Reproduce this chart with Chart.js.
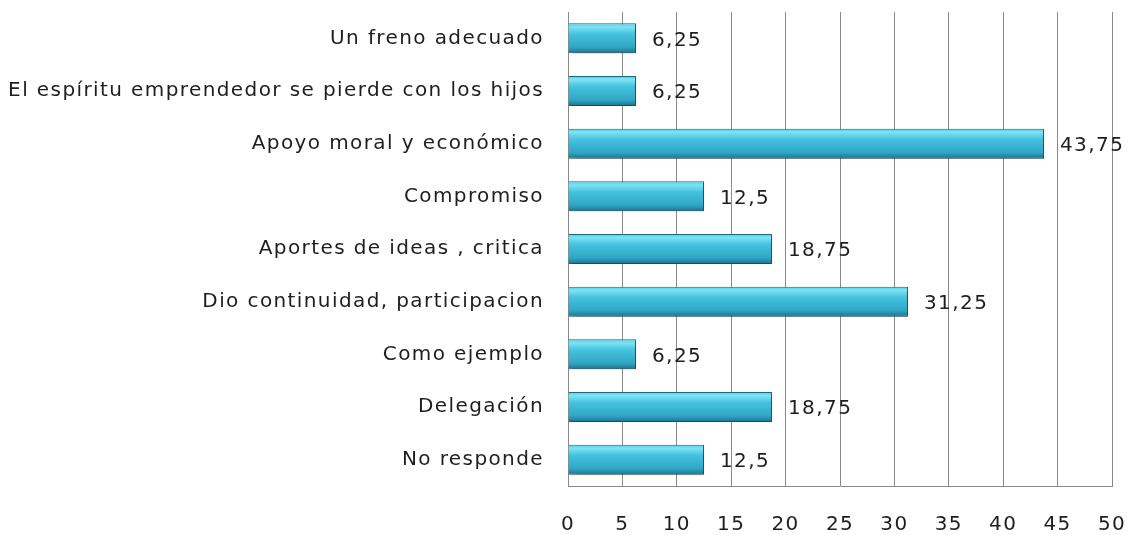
<!DOCTYPE html>
<html>
<head>
<meta charset="utf-8">
<script src="https://cdn.jsdelivr.net/npm/chart.js@4/dist/chart.umd.min.js"></script>
<style>
  html, body { margin: 0; padding: 0; background: #fff; }
  #wrap { width: 1134px; height: 535px; }
</style>
</head>
<body>
<div id="wrap"><canvas id="chart" width="1134" height="535"></canvas></div>
<script>
// categories top to bottom
const categories = [
    'Un freno adecuado',
    'El espíritu emprendedor se pierde con los hijos',
    'Apoyo moral y económico',
    'Compromiso',
    'Aportes de ideas , critica',
    'Dio continuidad, participacion',
    'Como ejemplo',
    'Delegación',
    'No responde'
];
const values = [6.25, 6.25, 43.75, 12.5, 18.75, 31.25, 6.25, 18.75, 12.5];
const valueLabels = ['6,25', '6,25', '43,75', '12,5', '18,75', '31,25', '6,25', '18,75', '12,5'];
const xTicks = [0, 5, 10, 15, 20, 25, 30, 35, 40, 45, 50];

const FONT = '"DejaVu Sans", "Open Sans", sans-serif';
const FONT_SIZE = 20;
const SPACING = '1.4px';
const BAR_PCT = 0.57;

// cylinder-ish gradient for each bar, built from the y scale
function barFill(ctx) {
    const chart = ctx.chart;
    const y = chart.scales.y;
    if (!chart.chartArea || !y) return '#38b7d5';
    const centre = y.getPixelForValue(ctx.dataIndex);
    const h = (chart.chartArea.height / categories.length) * BAR_PCT;
    const g = chart.ctx.createLinearGradient(0, centre - h / 2, 0, centre + h / 2);
    g.addColorStop(0, '#49cfe8');
    g.addColorStop(0.12, '#7fe3f4');
    g.addColorStop(0.35, '#45c3de');
    g.addColorStop(0.8, '#2fa6c4');
    g.addColorStop(1, '#1c7089');
    return g;
}

// wider text like the original
const spacingPlugin = {
    id: 'spacing',
    beforeDraw(chart) { chart.ctx.letterSpacing = SPACING; }
};

// value labels right of the bars
const valueLabelPlugin = {
    id: 'valueLabels',
    afterDatasetsDraw(chart) {
        const c = chart.ctx;
        c.save();
        c.letterSpacing = SPACING;
        c.font = FONT_SIZE + 'px ' + FONT;
        c.fillStyle = '#1e1e1e';
        c.textAlign = 'left';
        c.textBaseline = 'middle';
        chart.getDatasetMeta(0).data.forEach((bar, i) => {
            c.fillText(valueLabels[i], bar.x + 16, bar.y + 2);
        });
        c.restore();
    }
};

// soft shadow under the bars
const shadowPlugin = {
    id: 'barShadow',
    beforeDatasetsDraw(chart) {
        const c = chart.ctx;
        c.save();
        c.shadowColor = 'rgba(0,0,0,0.3)';
        c.shadowBlur = 6;
        c.shadowOffsetX = 2;
        c.shadowOffsetY = 4;
    },
    afterDatasetsDraw(chart) {
        chart.ctx.restore();
    }
};

new Chart(document.getElementById('chart'), {
    type: 'bar',
    data: {
        labels: categories,
        datasets: [{
            data: values,
            backgroundColor: barFill,
            borderColor: '#1d6a80',
            borderWidth: 1,
            borderSkipped: 'left',
            categoryPercentage: 1,
            barPercentage: BAR_PCT
        }]
    },
    options: {
        indexAxis: 'y',
        responsive: false,
        animation: false,
        layout: { padding: { top: 12, right: 22, left: 0, bottom: 0 } },
        plugins: {
            legend: { display: false },
            tooltip: { enabled: false }
        },
        scales: {
            x: {
                min: 0,
                max: 50,
                afterBuildTicks(axis) { axis.ticks = xTicks.map(v => ({ value: v })); },
                afterFit(axis) {
                    axis.height = 49;
                    axis.paddingLeft = 0;
                    axis.paddingRight = 0;
                },
                grid: { color: '#8a8a8a', lineWidth: 1, drawTicks: false },
                border: { color: '#8a8a8a', width: 1 },
                ticks: {
                    padding: 27,
                    color: '#1e1e1e',
                    font: { family: FONT, size: FONT_SIZE }
                }
            },
            y: {
                afterFit(axis) {
                    axis.width = 568;
                    axis.paddingTop = 0;
                    axis.paddingBottom = 0;
                },
                grid: { display: false, drawTicks: false },
                border: { color: '#8a8a8a', width: 1 },
                ticks: {
                    padding: 24,
                    color: '#1e1e1e',
                    font: { family: FONT, size: FONT_SIZE }
                }
            }
        }
    },
    plugins: [spacingPlugin, shadowPlugin, valueLabelPlugin]
});
</script>
</body>
</html>
